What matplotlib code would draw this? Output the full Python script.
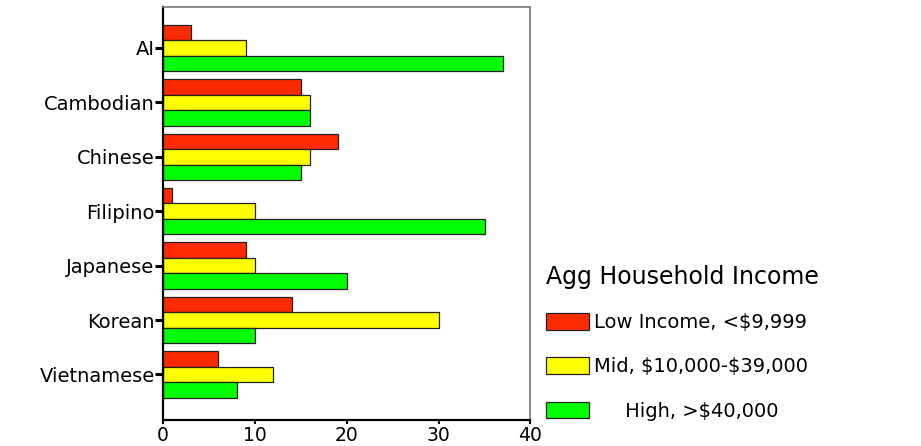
import numpy as np
import matplotlib
matplotlib.use("Agg")
import matplotlib.pyplot as plt

# household income counts by ethnic group
groups = ["AI", "Cambodian", "Chinese", "Filipino", "Japanese", "Korean", "Vietnamese"]
low_income = [3, 15, 19, 1, 9, 14, 6]
mid_income = [9, 16, 16, 10, 10, 30, 12]
high_income = [37, 16, 15, 35, 20, 10, 8]
series_labels = [r"Low Income, <\$9,999", r"Mid, \$10,000-\$39,000", r"     High, >\$40,000"]
colors = ["#ff2a00", "#ffff00", "#00ff00"]

plt.rcParams["font.family"] = ["DejaVu Sans"]

fig = plt.figure(figsize=(9.21, 4.46), dpi=100)
ax = fig.add_axes([0.177, 0.058, 0.399, 0.926])

y = np.arange(len(groups))
h = 0.285
bars = []
for i, (vals, c) in enumerate(zip([low_income, mid_income, high_income], colors)):
    b = ax.barh(y + (i - 1) * h, vals, height=h, color=c, edgecolor="#222222",
                linewidth=0.9, label=series_labels[i])
    bars.append(b)

ax.set_xlim(0, 40)
ax.set_ylim(len(groups) - 1 + 0.84, -0.75)
ax.set_xticks([0, 10, 20, 30, 40])
ax.set_yticks(y)
ax.set_yticklabels(groups)
ax.tick_params(axis="y", length=6, width=2.2, labelsize=14, pad=0, color="black")
ax.tick_params(axis="x", length=3, width=1.5, labelsize=13.5, pad=1)

for s in ["left", "bottom"]:
    ax.spines[s].set_color("black")
    ax.spines[s].set_linewidth(1.6)
for s in ["top", "right"]:
    ax.spines[s].set_color("#777777")
    ax.spines[s].set_linewidth(1.2)

leg = fig.legend(handles=bars, labels=series_labels, title="Agg Household Income",
                 loc="upper left", bbox_to_anchor=(0.593, 0.405), frameon=False,
                 fontsize=14, title_fontsize=17, alignment="left",
                 handlelength=2.2, handleheight=0.95, handletextpad=0.25,
                 labelspacing=1.3, borderpad=0, borderaxespad=0)
leg._legend_box.sep = 17

fig.savefig("out.png", dpi=100, facecolor="white")
